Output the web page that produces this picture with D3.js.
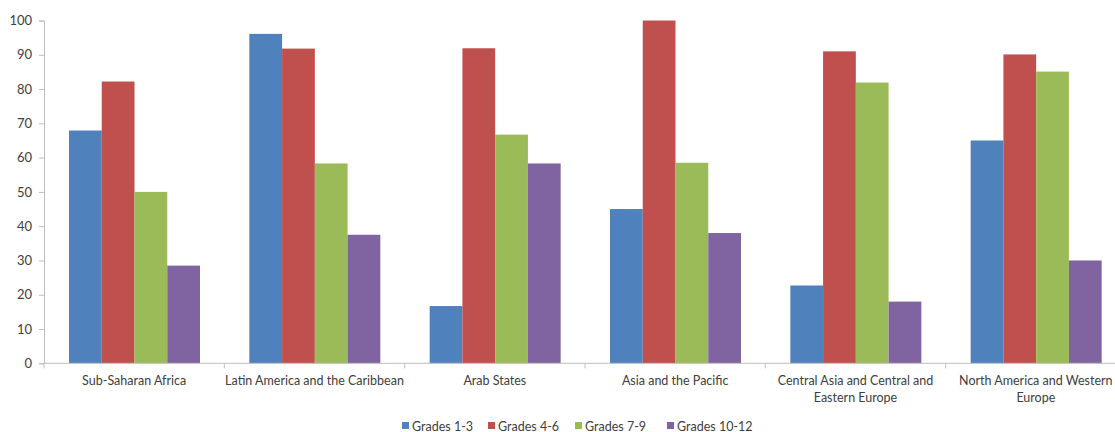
<!DOCTYPE html>
<html><head><meta charset="utf-8">
<script src="https://cdn.jsdelivr.net/npm/d3@7"></script>
<style>body{margin:0;background:#fff}svg{display:block}</style>
</head><body><svg id="c" width="1115" height="432"></svg>
<script>
const categories = ["Sub-Saharan Africa","Latin America and the Caribbean","Arab States","Asia and the Pacific","Central Asia and Central and Eastern Europe","North America and Western Europe"];
const seriesNames = ["Grades 1-3","Grades 4-6","Grades 7-9","Grades 10-12"];
const grades1_3 = [67.9, 96.1, 16.7, 45.0, 22.7, 65.0];
const grades4_6 = [82.2, 91.8, 91.9, 100.0, 91.0, 90.1];
const grades7_9 = [50.0, 58.3, 66.7, 58.5, 81.9, 85.1];
const grades10_12 = [28.5, 37.5, 58.3, 38.0, 18.0, 30.0];
const yTicks = [0,10,20,30,40,50,60,70,80,90,100];
const colors = ["#4F81BD","#C0504D","#9BBB59","#8064A2"];
const seriesValues = [grades1_3, grades4_6, grades7_9, grades10_12];

const svg = d3.select("#c");
const font = "Lato, 'Open Sans', sans-serif";
const fs = 12.5;
const mLeft = 44, mRight = 1126, mTop = 20.5, mBottom = 363.3;
const x = d3.scaleBand().domain(categories).range([mLeft, mRight]).paddingInner(0).paddingOuter(0);
const x1 = d3.scaleBand().domain(seriesNames).range([25, 25 + 131]);
const y = d3.scaleLinear().domain([0,100]).range([mBottom, mTop]);

// bars
categories.forEach((c, ci) => {
  seriesNames.forEach((s, si) => {
    const v = seriesValues[si][ci];
    svg.append("rect")
      .attr("x", x(c) + x1(s))
      .attr("y", y(v))
      .attr("width", x1.bandwidth())
      .attr("height", y(0) - y(v))
      .attr("fill", colors[si]);
  });
});

// y axis
const yAxis = d3.axisLeft(y).tickValues(yTicks).tickSize(5).tickPadding(7);
const gy = svg.append("g").attr("transform", `translate(${mLeft},0)`).call(yAxis);
gy.select(".domain").attr("stroke", "#BFBFBF");
gy.selectAll(".tick line").attr("stroke", "#BFBFBF");
gy.selectAll("text").attr("font-family", font).attr("font-size", 13).attr("fill", "#404040");

// x axis
const gx = svg.append("g").attr("transform", `translate(0,${mBottom})`);
gx.append("line").attr("x1", mLeft).attr("x2", mRight).attr("stroke", "#BFBFBF");
const boundaries = categories.map(c => x(c));
gx.selectAll(".tk").data(boundaries).enter().append("line")
  .attr("x1", d => d).attr("x2", d => d).attr("y1", 0).attr("y2", 5).attr("stroke", "#BFBFBF");

// category labels with wrapping
categories.forEach(c => {
  const cx = x(c) + x.bandwidth()/2;
  const t = svg.append("text")
    .attr("x", cx)
    .attr("y", 385)
    .attr("text-anchor", "middle")
    .attr("font-family", font).attr("font-size", fs).attr("fill", "#404040");
  const words = c.split(" ");
  let line = [];
  let ts = t.append("tspan").attr("x", cx).attr("dy", 0);
  words.forEach(w => {
    line.push(w);
    ts.text(line.join(" "));
    if (ts.node().getComputedTextLength() > 182 && line.length > 1) {
      line.pop();
      ts.text(line.join(" "));
      line = [w];
      ts = t.append("tspan").attr("x", cx).attr("dy", 17).text(w);
    }
  });
});

// legend
const legendX = [402, 488, 575, 667];
seriesNames.forEach((s, i) => {
  const g = svg.append("g").attr("transform", `translate(${legendX[i]},426)`);
  g.append("rect").attr("x", 0).attr("y", -4).attr("width", 7).attr("height", 7).attr("fill", colors[i]);
  g.append("text").attr("x", 10).attr("y", 4.5).attr("font-family", font).attr("font-size", fs).attr("fill", "#404040").text(s);
});
</script></body></html>
